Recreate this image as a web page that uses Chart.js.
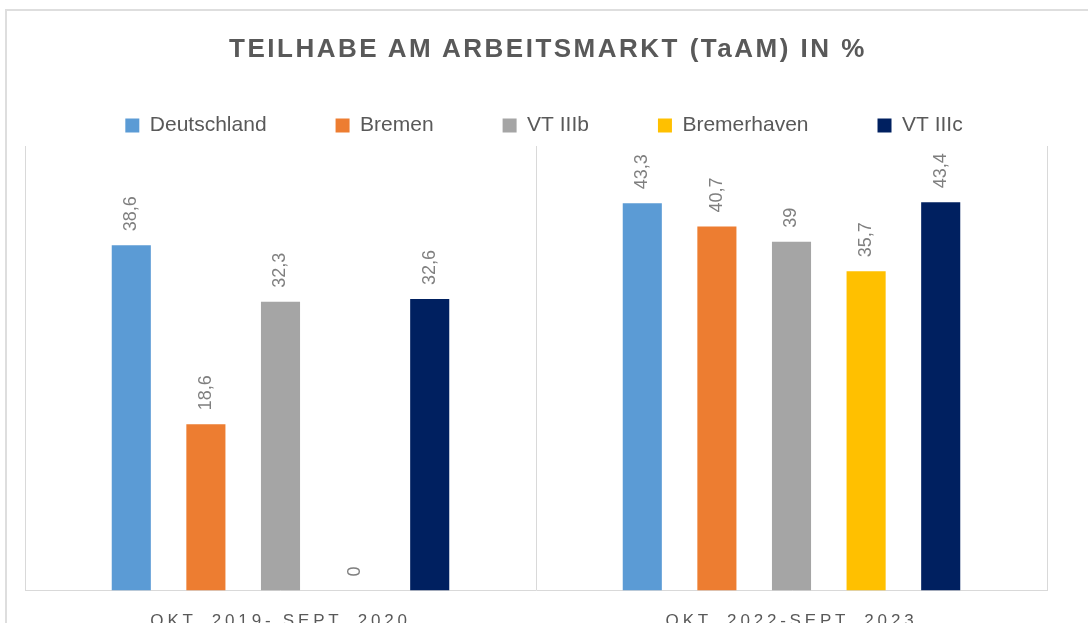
<!DOCTYPE html>
<html lang="de">
<head>
<meta charset="UTF-8">
<title>Teilhabe am Arbeitsmarkt</title>
<script src="https://cdn.jsdelivr.net/npm/chart.js@4.4.1/dist/chart.umd.min.js"></script>
<style>
  html, body { margin: 0; padding: 0; background: #fff; overflow: hidden; width: 1088px; height: 623px; }
  .frame { position: absolute; left: 5px; top: 9px; width: 1100px; height: 700px; border: 2px solid #dedede; }
  .chart-title {
    position: absolute; left: 0; top: 33px; width: 1096px; line-height: 30px;
    text-align: center; font: bold 26px 'Liberation Sans', Arial, sans-serif;
    letter-spacing: 2.5px; color: #595959;
  }
  #chart { position: absolute; left: 0; top: 0; }
</style>
</head>
<body>
<div class="frame"></div>
<canvas id="chart" width="1088" height="660"></canvas>
<div class="chart-title">TEILHABE AM ARBEITSMARKT (TaAM) IN %</div>

<script>
// Chart data
const categories = ['OKT. 2019- SEPT. 2020', 'OKT. 2022-SEPT. 2023'];
const seriesNames = ['Deutschland', 'Bremen', 'VT IIIb', 'Bremerhaven', 'VT IIIc'];
const deutschland = [38.6, 43.3];
const bremen = [18.6, 40.7];
const vtIIIb = [32.3, 39];
const bremerhaven = [0, 35.7];
const vtIIIc = [32.6, 43.4];
const yMax = 49.7;

const seriesColors = ['#5B9BD5', '#ED7D31', '#A5A5A5', '#FFC000', '#002060'];
const fontFamily = '"Liberation Sans", Arial, sans-serif';

document.addEventListener('DOMContentLoaded', () => {
    const values = [deutschland, bremen, vtIIIb, bremerhaven, vtIIIc];

    // Rotated value labels above each bar
    const barLabels = {
        id: 'barLabels',
        afterLayout(chart) {
            // legend sits a bit right of the plot centre in the original
            chart.legend.left += 8;
            chart.legend.right += 8;
        },
        afterDatasetsDraw(chart) {
            const ctx = chart.ctx;
            ctx.save();
            ctx.font = '18px ' + fontFamily;
            ctx.fillStyle = '#7f7f7f';
            ctx.textAlign = 'left';
            ctx.textBaseline = 'middle';
            chart.data.datasets.forEach((ds, i) => {
                chart.getDatasetMeta(i).data.forEach((bar, j) => {
                    const text = String(ds.data[j]).replace('.', ',');
                    ctx.save();
                    ctx.translate(bar.x, bar.y - 14);
                    ctx.rotate(-Math.PI / 2);
                    ctx.fillText(text, 0, 0);
                    ctx.restore();
                });
            });
            ctx.restore();
            // category labels (ticks.z = 1) are drawn after this, spaced out
            ctx.letterSpacing = '3.8px';
        },
        afterDraw(chart) {
            chart.ctx.letterSpacing = '0px';
        }
    };

    new Chart(document.getElementById('chart'), {
        type: 'bar',
        data: {
            labels: categories,
            datasets: seriesNames.map((name, i) => ({
                label: name,
                data: values[i],
                backgroundColor: seriesColors[i],
                borderWidth: 0,
                categoryPercentage: 0.73,
                barPercentage: 0.524
            }))
        },
        options: {
            responsive: false,
            animation: false,
            devicePixelRatio: 1,
            layout: { padding: { top: 46, left: 25, right: 41, bottom: 7 } },
            plugins: {
                title: { display: false },
                tooltip: { enabled: false },
                legend: {
                    position: 'top',
                    labels: {
                        boxWidth: 14,
                        boxHeight: 14,
                        padding: 69,
                        color: '#595959',
                        font: { family: fontFamily, size: 21 }
                    }
                }
            },
            scales: {
                x: {
                    grid: { color: '#d9d9d9', lineWidth: 1, drawTicks: false, offset: true },
                    border: { color: '#d9d9d9', width: 1 },
                    ticks: {
                        z: 1,
                        padding: 21,
                        maxRotation: 0,
                        autoSkip: false,
                        color: '#595959',
                        font: { family: fontFamily, size: 17 }
                    }
                },
                y: {
                    display: false,
                    min: 0,
                    max: yMax
                }
            }
        },
        plugins: [barLabels]
    });
});
</script>
</body>
</html>
